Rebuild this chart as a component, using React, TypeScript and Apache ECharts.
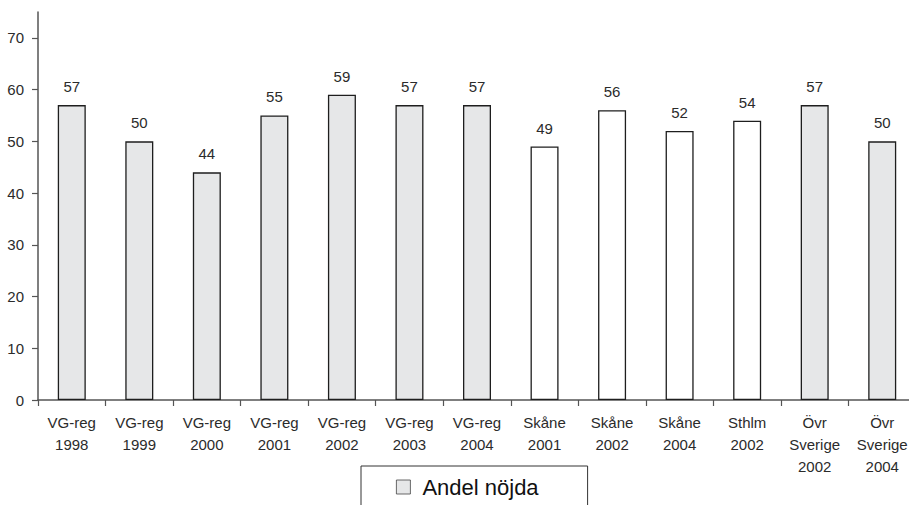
import React, { useEffect, useRef } from "react";
import * as echarts from "echarts";

const categories = [
  "VG-reg\n1998",
  "VG-reg\n1999",
  "VG-reg\n2000",
  "VG-reg\n2001",
  "VG-reg\n2002",
  "VG-reg\n2003",
  "VG-reg\n2004",
  "Skåne\n2001",
  "Skåne\n2002",
  "Skåne\n2004",
  "Sthlm\n2002",
  "Övr\nSverige\n2002",
  "Övr\nSverige\n2004",
];
const values = [57, 50, 44, 55, 59, 57, 57, 49, 56, 52, 54, 57, 50];
const whiteBars = [false, false, false, false, false, false, false, true, true, true, true, false, false];
const yTicks = [0, 10, 20, 30, 40, 50, 60, 70];
const seriesName = "Andel nöjda";

const FONT = "'Liberation Sans', Arial, Helvetica, sans-serif";
const GRAY_FILL = "#e6e7e8";
const BORDER = "#1e1e1e";
const TEXT = "#2b2b2b";
const AXIS = "#555555";

export default function App() {
  const ref = useRef<HTMLDivElement>(null);
  useEffect(() => {
    if (!ref.current) return;
    const chart = echarts.init(ref.current, undefined, { renderer: "svg" });
    chart.setOption({
      animation: false,
      backgroundColor: "#ffffff",
      textStyle: { fontFamily: FONT },
      grid: { left: 38, top: 12, width: 878, height: 388, containLabel: false },
      legend: {
        data: [seriesName],
        left: 361,
        top: 466,
        width: 225,
        orient: "horizontal",
        icon: "rect",
        itemWidth: 14,
        itemHeight: 14,
        itemStyle: { color: GRAY_FILL, borderColor: "#444", borderWidth: 0.8 },
        borderColor: "#333",
        borderWidth: 1,
        borderRadius: 0,
        padding: [10, 49, 30, 35],
        textStyle: { fontSize: 22, color: "#111", fontFamily: FONT, padding: [0, 0, 0, 7] },
      },
      xAxis: {
        type: "category",
        data: categories,
        boundaryGap: true,
        axisLine: { show: true, lineStyle: { color: AXIS, width: 1.5 } },
        axisTick: { show: true, length: 6, alignWithLabel: false, lineStyle: { color: AXIS, width: 1.2 } },
        axisLabel: {
          interval: 0,
          fontSize: 15,
          lineHeight: 22,
          color: TEXT,
          margin: 11,
          fontFamily: FONT,
        },
        splitLine: { show: false },
      },
      yAxis: {
        type: "value",
        min: 0,
        max: 75,
        interval: 5,
        axisLine: { show: true, lineStyle: { color: AXIS, width: 1.5 } },
        axisTick: { show: true, length: 6, customValues: yTicks, lineStyle: { color: AXIS, width: 1.2 } },
        axisLabel: { fontSize: 15, color: TEXT, margin: 14, customValues: yTicks, fontFamily: FONT },
        splitLine: { show: false },
      },
      series: [
        {
          name: seriesName,
          type: "bar",
          barWidth: 28,
          itemStyle: { color: GRAY_FILL, borderColor: BORDER, borderWidth: 1.3 },
          label: {
            show: true,
            position: "top",
            distance: 11,
            fontSize: 15,
            color: TEXT,
            fontFamily: FONT,
          },
          data: values.map((v, i) => ({
            value: v,
            itemStyle: { color: whiteBars[i] ? "#ffffff" : GRAY_FILL, borderColor: BORDER, borderWidth: 1.3 },
          })),
        },
      ],
    });
    return () => chart.dispose();
  }, []);
  return (
    <div
      ref={ref}
      style={{ position: "fixed", left: 0, top: 0, width: 930, height: 505, background: "#fff" }}
    />
  );
}
